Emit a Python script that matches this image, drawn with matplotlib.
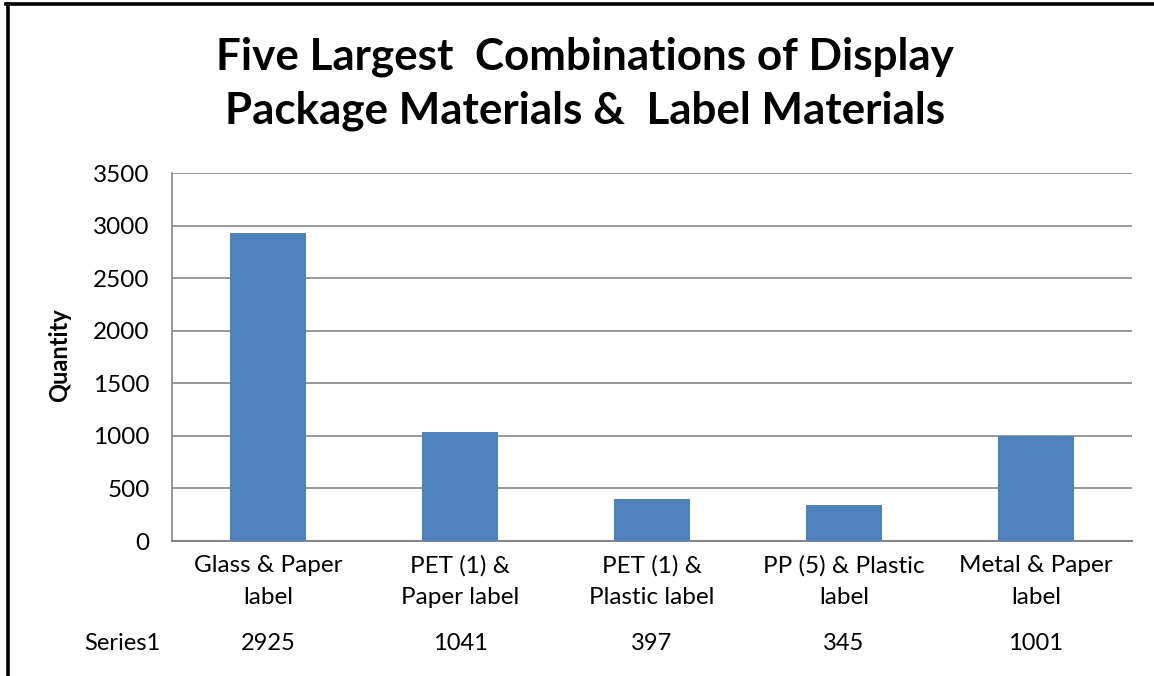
import matplotlib.pyplot as plt
from matplotlib.lines import Line2D
from matplotlib.transforms import blended_transform_factory

plt.rcParams['font.family'] = ['Lato', 'DejaVu Sans']

categories = ["Glass & Paper\nlabel", "PET (1) &\nPaper label", "PET (1) &\nPlastic label",
              "PP (5) & Plastic\nlabel", "Metal & Paper\nlabel"]
quantities = [2925, 1041, 397, 345, 1001]
series_name = "Series1"
yticks = [0, 500, 1000, 1500, 2000, 2500, 3000, 3500]

fig = plt.figure(figsize=(11.54, 6.76), dpi=100)
ax = fig.add_axes([172 / 1154, 1 - 541 / 676, 960 / 1154, 368 / 676])

x = range(len(categories))
ax.bar(x, quantities, width=0.4, color='#4F81BD', zorder=3)

ax.set_xlim(-0.5, len(categories) - 0.5)
ax.set_ylim(0, 3500)
ax.set_yticks(yticks)
ax.set_yticklabels([str(t) for t in yticks], fontsize=17.5)
ax.set_xticks(list(x))
ax.set_xticklabels(categories, fontsize=17.5, linespacing=1.65)
ax.tick_params(axis='y', length=0, pad=16)
ax.tick_params(axis='x', length=0, pad=10)

ax.grid(axis='y', color='#868686', linewidth=1.2, zorder=0)
for side in ['top', 'right']:
    ax.spines[side].set_visible(False)
ax.spines['left'].set_color('#868686')
ax.spines['left'].set_linewidth(1.2)
ax.spines['bottom'].set_color('#868686')
ax.spines['bottom'].set_linewidth(1.5)

ax.set_ylabel("Quantity", fontsize=17, fontweight='bold')
ax.yaxis.set_label_coords(71 / 1154, 1 - 355 / 676, transform=fig.transFigure)

# data table row under the category labels
trans = blended_transform_factory(ax.transData, fig.transFigure)
y_row = 1 - 643 / 676
fig.text(122 / 1154, y_row, series_name, fontsize=17, ha='center', va='center')
for i, q in enumerate(quantities):
    ax.text(i, y_row, str(q), transform=trans, fontsize=17, ha='center', va='center')

fig.text(585 / 1154, 1 - 57 / 676, "Five Largest  Combinations of Display",
         fontsize=31.7, fontweight='bold', ha='center', va='center')
fig.text(585 / 1154, 1 - 111 / 676, "Package Materials &  Label Materials",
         fontsize=31.7, fontweight='bold', ha='center', va='center')

# chart frame (left and top edges)
fig.add_artist(Line2D([7.5 / 1154, 7.5 / 1154], [0, 1 - 3.5 / 676], color='black',
                      linewidth=2.6, transform=fig.transFigure))
fig.add_artist(Line2D([6 / 1154, 1], [1 - 3.5 / 676, 1 - 3.5 / 676], color='black',
                      linewidth=2.6, transform=fig.transFigure))

fig.savefig('out.png', dpi=100)
